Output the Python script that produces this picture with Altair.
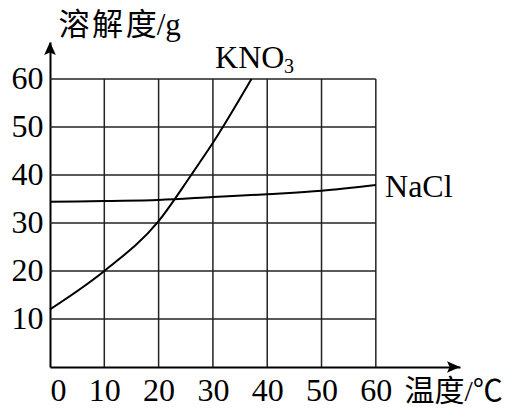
import altair as alt
import pandas as pd

# ---- data ----
kno3_t = [0, 10, 20, 26, 30, 37.1]
kno3_s = [12, 20, 30.4, 40, 46.7, 60]

nacl_t = [0, 10, 20, 30, 40, 50, 60]
nacl_s = [34.4, 34.6, 34.8, 35.4, 36.0, 36.7, 37.9]

x_ticks = [0, 10, 20, 30, 40, 50, 60]
y_ticks = [10, 20, 30, 40, 50, 60]
grid_x = [10, 20, 30, 40, 50, 60]
grid_y = [10, 20, 30, 40, 50, 60]

X_MAX = 75.5
Y_MAX = 67.7
SERIF = "Liberation Serif"
MIXED = "Liberation Serif, Noto Sans CJK SC"

xs = alt.Scale(domain=[0, X_MAX], nice=False, zero=False)
ys = alt.Scale(domain=[0, Y_MAX], nice=False, zero=False)

df_k = pd.DataFrame({"t": kno3_t, "s": kno3_s})
df_n = pd.DataFrame({"t": nacl_t, "s": nacl_s})
df_gx = pd.DataFrame({"x": grid_x, "y0": [0] * len(grid_x), "y1": [60] * len(grid_x)})
df_gy = pd.DataFrame({"y": grid_y, "x0": [0] * len(grid_y), "x1": [60] * len(grid_y)})

x_axis = alt.Axis(values=x_ticks, grid=False, ticks=False, domain=True,
                  domainColor="black", domainWidth=2, labelPadding=33,
                  labelBaseline="alphabetic",
                  labelFontSize=32, labelFont=SERIF, labelColor="black",
                  title="温度/℃", titleFont=MIXED, titleFontSize=30,
                  titleFontWeight="normal", titleColor="black",
                  titleX=354, titleY=33, titleAlign="left",
                  titleBaseline="alphabetic", titleAngle=0)
y_axis = alt.Axis(values=y_ticks, grid=False, ticks=False, domain=True,
                  domainColor="black", domainWidth=2, labelPadding=7,
                  labelFontSize=32, labelFont=SERIF, labelColor="black",
                  title="溶\u200a解\u200a度/g", titleFont=MIXED, titleFontSize=31,
                  titleFontWeight="normal", titleColor="black",
                  titleX=8, titleY=-8, titleAlign="left",
                  titleBaseline="alphabetic", titleAngle=0)

vgrid = alt.Chart(df_gx).mark_rule(color="#222", strokeWidth=1.5).encode(
    x=alt.X("x:Q", scale=xs, axis=x_axis),
    y=alt.Y("y0:Q", scale=ys, axis=y_axis),
    y2="y1:Q",
)
hgrid = alt.Chart(df_gy).mark_rule(color="#222", strokeWidth=1.5).encode(
    y=alt.Y("y:Q", scale=ys),
    x=alt.X("x0:Q", scale=xs),
    x2="x1:Q",
)

kno3 = alt.Chart(df_k).mark_line(color="black", strokeWidth=2, interpolate="monotone").encode(
    x=alt.X("t:Q", scale=xs), y=alt.Y("s:Q", scale=ys))
nacl = alt.Chart(df_n).mark_line(color="black", strokeWidth=2, interpolate="monotone").encode(
    x=alt.X("t:Q", scale=xs), y=alt.Y("s:Q", scale=ys))

# arrow heads at the ends of the axes
up_arrow = alt.Chart(pd.DataFrame({"x": [0], "y": [Y_MAX]})).mark_point(
    shape="M0,0L-0.45,1L0,0.8L0.45,1Z", size=676, filled=True, color="black", opacity=1
).encode(x=alt.X("x:Q", scale=xs), y=alt.Y("y:Q", scale=ys))
right_arrow = alt.Chart(pd.DataFrame({"x": [X_MAX], "y": [0]})).mark_point(
    shape="M0,0L-1,-0.45L-0.8,0L-1,0.45Z", size=676, filled=True, color="black", opacity=1
).encode(x=alt.X("x:Q", scale=xs), y=alt.Y("y:Q", scale=ys))

# series labels
lab_main = pd.DataFrame({"x": [30.4, 61.7], "y": [62.3, 35.4], "txt": ["KNO", "NaCl"]})
lab_sub = pd.DataFrame({"x": [43.1], "y": [61.2], "txt": ["3"]})
labels = alt.Chart(lab_main).mark_text(font=SERIF, fontSize=32, align="left",
                                        baseline="alphabetic", color="black").encode(
    x=alt.X("x:Q", scale=xs), y=alt.Y("y:Q", scale=ys), text="txt:N")
sub = alt.Chart(lab_sub).mark_text(font=SERIF, fontSize=20, align="left",
                                    baseline="alphabetic", color="black").encode(
    x=alt.X("x:Q", scale=xs), y=alt.Y("y:Q", scale=ys), text="txt:N")

chart = alt.layer(vgrid, hgrid, kno3, nacl, up_arrow, right_arrow, labels, sub).properties(
    width=410, height=325, autosize="none",
    padding={"left": 42, "top": 34, "right": 45, "bottom": 39},
    background="white",
).configure(font=MIXED).configure_view(stroke=None)

chart.save("out.html", embed_options={"renderer": "svg", "actions": False})
